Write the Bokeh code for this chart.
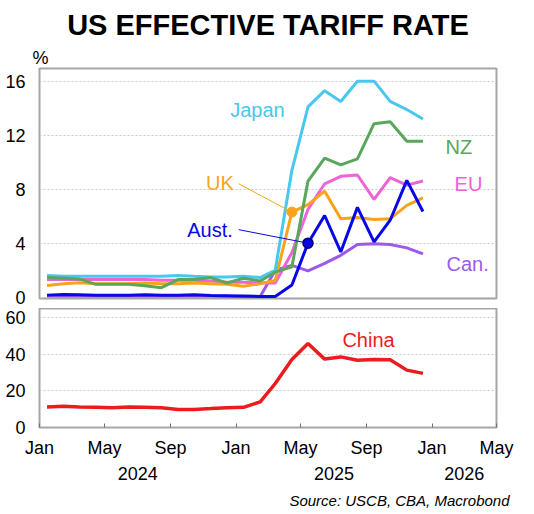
import pandas as pd
from bokeh.embed import file_html
from bokeh.layouts import column
from bokeh.models import FixedTicker, Label, LinearAxis, Range1d, Title
from bokeh.plotting import figure
from bokeh.resources import INLINE

FONT = "Liberation Sans"

# monthly observations, plotted mid-month, Jan 2024 - Dec 2025
months = pd.date_range("2024-01-01", "2025-12-01", freq="MS") + pd.Timedelta(days=14)

japan = [1.6, 1.55, 1.55, 1.55, 1.55, 1.55, 1.55, 1.55, 1.6, 1.55, 1.5, 1.5,
         1.55, 1.45, 2.0, 9.4, 14.1, 15.3, 14.5, 16.0, 16.0, 14.5, 13.9, 13.2]
nz = [1.45, 1.4, 1.35, 0.95, 0.95, 0.95, 0.85, 0.7, 1.3, 1.3, 1.45, 1.05,
      1.4, 1.2, 1.85, 2.25, 8.6, 10.3, 9.8, 10.25, 12.85, 13.0, 11.55, 11.55]
eu = [1.3, 1.3, 1.3, 1.3, 1.3, 1.3, 1.3, 1.25, 1.25, 1.25, 1.2, 1.1,
      1.1, 1.05, 1.05, 3.3, 6.5, 8.4, 8.95, 9.05, 7.25, 8.85, 8.3, 8.6]
uk = [0.87, 1.0, 1.07, 1.0, 1.0, 1.0, 1.05, 1.0, 1.0, 1.05, 1.0, 0.95,
      0.8, 1.0, 1.24, 6.3, 6.85, 7.85, 5.8, 5.9, 5.75, 5.8, 6.8, 7.35]
aust = [0.15, 0.2, 0.18, 0.15, 0.15, 0.15, 0.18, 0.15, 0.15, 0.18, 0.12, 0.1,
        0.08, 0.05, 0.05, 0.9, 4.0, 6.05, 3.35, 6.65, 4.1, 5.7, 8.65, 6.35]
canada = [0.08, 0.08, 0.08, 0.08, 0.08, 0.08, 0.08, 0.08, 0.08, 0.08, 0.08, 0.06,
          0.05, 0.05, 2.0, 2.35, 1.95, 2.5, 3.1, 3.9, 3.95, 3.9, 3.65, 3.2]
china = [11.2, 11.6, 11.2, 11.0, 10.8, 11.2, 11.0, 10.8, 9.8, 9.8, 10.3, 10.8,
         11.0, 14.0, 24.0, 37.1, 45.8, 37.3, 38.5, 36.7, 37.1, 37.0, 31.3, 29.5]

colors = {"Japan": "#48c8ee", "NZ": "#5aa65c", "EU": "#f062d8", "UK": "#f8a41a",
          "Aust.": "#0808e6", "Can.": "#9b5ae8", "China": "#ec1c1c"}

# x axis: Jan/May/Sep ticks, years centred underneath
x_start, x_end = pd.Timestamp("2024-01-01"), pd.Timestamp("2026-05-01")
tick_dates = pd.date_range(x_start, x_end, freq="4MS")
years = ["2024", "2025", "2026"]
year_bounds = [x_start, pd.Timestamp("2025-01-01"), pd.Timestamp("2026-01-01"), x_end]


def ms(d):
    return pd.Timestamp(d).value // 10**6


x_range = Range1d(x_start, x_end)


def style(p, ticks):
    p.outline_line_color = "#a6a6a6"
    p.outline_line_width = 2
    p.yaxis.ticker = FixedTicker(ticks=ticks, minor_ticks=[])
    p.yaxis.axis_line_color = None
    p.yaxis.major_tick_line_color = None
    p.yaxis.minor_tick_line_color = None
    p.yaxis.major_label_text_font = FONT
    p.yaxis.major_label_text_font_size = "18px"
    p.yaxis.major_label_text_color = "black"
    p.yaxis.major_label_standoff = 8
    p.ygrid.grid_line_color = "#c8c8c8"
    p.ygrid.grid_line_dash = "2 2"
    p.ygrid.grid_line_width = 1
    p.background_fill_color = "white"
    p.border_fill_color = "white"


top = figure(width=520, height=308, x_range=x_range, y_range=Range1d(-0.1, 16.94),
             x_axis_type=None, output_backend="svg", toolbar_location=None,
             title="US EFFECTIVE TARIFF RATE",
             min_border_left=39, min_border_right=24, min_border_top=68,
             min_border_bottom=10)
style(top, [0, 4, 8, 12, 16])
top.title.align = "center"
top.title.text_font = FONT
top.title.text_font_size = "29px"
top.title.text_font_style = "bold"
top.title.text_color = "black"
top.title.standoff = 7
top.add_layout(Title(text="%", align="left", offset=-7, standoff=2, text_font=FONT,
                     text_font_size="18px", text_font_style="normal",
                     text_color="black"), "above")

top.line(months, canada, color=colors["Can."], line_width=3)
top.line(months, eu, color=colors["EU"], line_width=3)
top.line(months, uk, color=colors["UK"], line_width=3)
top.line(months, japan, color=colors["Japan"], line_width=3)
top.line(months, nz, color=colors["NZ"], line_width=3)
top.line(months, aust, color=colors["Aust."], line_width=3)

# callouts: UK in April 2025, Australia in May 2025
uk_i, au_i = 15, 16
top.segment(x0=[pd.Timestamp("2025-01-06")], y0=[8.4], x1=[months[uk_i]], y1=[uk[uk_i]],
            color=colors["UK"], line_width=1)
top.segment(x0=[pd.Timestamp("2025-01-06")], y0=[5.0], x1=[months[au_i]], y1=[aust[au_i]],
            color=colors["Aust."], line_width=1)
top.scatter([months[uk_i]], [uk[uk_i]], size=10, color=colors["UK"])
top.scatter([months[au_i]], [aust[au_i]], size=10, fill_color=colors["Aust."],
            line_color="#00006a", line_width=1.5)

series_labels = [("Japan", "2024-12-21", 13.9), ("UK", "2024-11-06", 8.44),
                 ("Aust.", "2024-10-02", 4.94), ("NZ", "2026-01-26", 11.1),
                 ("EU", "2026-02-12", 8.35), ("Can.", "2026-01-28", 2.47)]
for name, d, yv in series_labels:
    top.add_layout(Label(x=ms(d), y=yv, text=name, text_color=colors[name],
                         text_font=FONT, text_font_size="20px",
                         text_baseline="middle", text_align="left"))

bottom = figure(width=520, height=208, x_range=x_range, y_range=Range1d(0, 64.9),
                x_axis_type=None, output_backend="svg", toolbar_location=None,
                min_border_left=39, min_border_right=24, min_border_top=0,
                min_border_bottom=89)
style(bottom, [0, 20, 40, 60])
bottom.line(months, china, color=colors["China"], line_width=3.5)
bottom.add_layout(Label(x=ms("2025-07-18"), y=47.8, text="China", text_color=colors["China"],
                        text_font=FONT, text_font_size="20px", text_baseline="middle",
                        text_align="left"))

tick_ms = [ms(d) for d in tick_dates]
month_axis = LinearAxis(ticker=FixedTicker(ticks=tick_ms, minor_ticks=[]),
                        major_label_overrides={t: d.strftime("%b") for t, d in zip(tick_ms, tick_dates)})
month_axis.axis_line_color = None
month_axis.major_tick_in = 4
month_axis.major_tick_out = 0
month_axis.major_tick_line_color = "#707070"
month_axis.major_label_standoff = 10
month_axis.major_label_text_font = FONT
month_axis.major_label_text_font_size = "18px"
month_axis.major_label_text_color = "black"
bottom.add_layout(month_axis, "below")

year_ms = [(ms(a) + ms(b)) // 2 for a, b in zip(year_bounds[:-1], year_bounds[1:])]
year_axis = LinearAxis(ticker=FixedTicker(ticks=year_ms, minor_ticks=[]),
                       major_label_overrides=dict(zip(year_ms, years)))
year_axis.axis_line_color = None
year_axis.major_tick_line_color = None
year_axis.major_tick_in = 0
year_axis.major_tick_out = 0
year_axis.major_label_standoff = 6
year_axis.major_label_text_font = FONT
year_axis.major_label_text_font_size = "18px"
year_axis.major_label_text_color = "black"
bottom.add_layout(year_axis, "below")

bottom.add_layout(Title(text="Source: USCB, CBA, Macrobond", align="right", offset=-13,
                        standoff=15, text_font=FONT, text_font_size="15px",
                        text_font_style="italic", text_color="black"), "below")

p = column(top, bottom, spacing=0)
open("out.html", "w").write(file_html(p, INLINE))
